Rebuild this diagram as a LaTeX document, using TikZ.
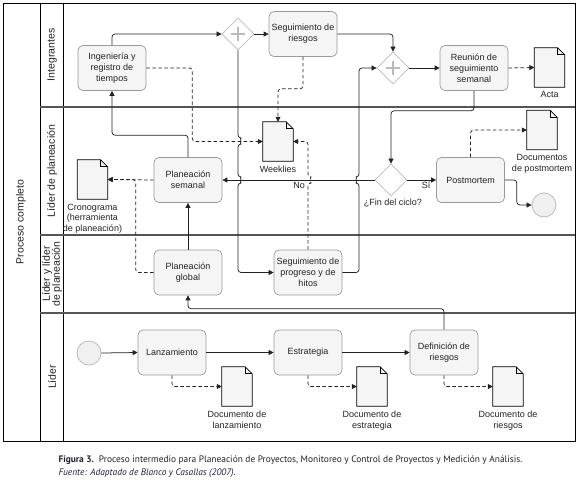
\documentclass[tikz,border=0pt]{standalone}
\usepackage{fontspec}
\setmainfont{Liberation Sans}
\newfontfamily\capfont{PT Sans}
\usetikzlibrary{arrows.meta,shapes.geometric,calc}
\definecolor{taskfill}{HTML}{F5F5F5}
\definecolor{taskline}{HTML}{999999}
\definecolor{gwline}{HTML}{BBBBBB}
\definecolor{linec}{HTML}{222222}
\definecolor{lanec}{HTML}{555555}
\definecolor{capc}{HTML}{1E1E36}
\definecolor{evfill}{HTML}{F0F0F0}
\begin{document}
\begin{tikzpicture}[x=1pt,y=-1pt,
  font=\fontsize{9}{11}\selectfont, text=linec,
  task/.style={draw=taskline, fill=taskfill, rounded corners=5pt, minimum width=68pt, minimum height=45pt, align=center, inner sep=1pt, line width=0.7pt},
  gw/.style={diamond, draw=gwline, fill=white, minimum width=32pt, minimum height=32pt, inner sep=0pt, line width=0.8pt},
  docbox/.style={minimum width=30pt, minimum height=39pt, inner sep=0pt},
  docline/.style={draw=black, fill=taskfill, line width=0.7pt},
  ev/.style={circle, draw=gwline, fill=evfill, minimum size=24pt, inner sep=0pt, line width=0.8pt},
  flow/.style={draw=linec, line width=0.75pt, rounded corners=3pt, -{Triangle[length=5pt,width=5pt]}},
  assoc/.style={flow, dash pattern=on 3.5pt off 2.5pt},
  lbl/.style={align=center, font=\fontsize{9}{10.8}\selectfont},
  lanelbl/.style={rotate=90, align=center, font=\fontsize{10.5}{11}\selectfont},
  plus/.style={draw=gwline, line width=1.1pt},
]
\useasboundingbox (0,0) rectangle (580,480);
% pool and lanes
\draw[line width=0.9pt] (3,3) rectangle (575,441);
\draw[line width=0.9pt] (40,3) -- (40,441);
\draw[line width=0.9pt] (63,3) -- (63,441);
\draw[draw=lanec, line width=1.1pt] (40,107) -- (575,107);
\draw[draw=lanec, line width=1.1pt] (40,235) -- (575,235);
\draw[draw=lanec, line width=1.1pt] (40,313) -- (575,313);
\node[lanelbl] (pool) at (21,222) {Proceso completo};
\node[lanelbl] (lane1) at (52,55) {Integrantes};
\node[lanelbl] (lane2) at (52,171) {Líder de planeación};
\node[lanelbl, font=\fontsize{10.5}{10}\selectfont] (lane3) at (52,274) {Líder y líder\\de planeación};
\node[lanelbl] (lane4) at (52,377) {Líder};

% tasks
\node[task] (ing) at (112,68) {Ingeniería y\\registro de\\tiempos};
\node[gw] (gw1) at (238,34) {};
\node[task] (segr) at (303,34) {Seguimiento de\\riesgos};
\node[gw] (gw2) at (393,68) {};
\node[task] (reu) at (474,68) {Reunión de\\seguimiento\\semanal};
\node[docbox, label={[lbl, label distance=1pt]below:Acta}] (acta) at (549.5,67.5) {};
\node[docbox, label={[lbl, label distance=1pt]below:Weeklies}] (weeklies) at (278,141.5) {};
\node[task] (plsem) at (188,180) {Planeación\\semanal};
\node[docbox, label={[lbl, label distance=1pt]below:Cronograma\\(herramienta\\de planeación)}] (crono) at (92.5,179.5) {};
\node[gw] (fin) at (391,180) {};
\node[lbl] (finlbl) at (393,203) {¿Fin del ciclo?};
\node[task] (post) at (470.5,180) {Postmortem};
\node[docbox, label={[lbl, label distance=1pt]below:Documentos\\de postmortem}] (docpost) at (542,130) {};
\node[ev] (endev) at (544,205) {};
\node[task] (plglob) at (188,272.5) {Planeación\\global};
\node[task] (segp) at (308,272.5) {Seguimiento de\\progreso y de\\hitos};
\node[ev] (startev) at (89,353) {};
\node[task] (lanz) at (172,352.5) {Lanzamiento};
\node[docbox, label={[lbl, label distance=1pt]below:Documento de\\lanzamiento}] (docl) at (237,386.5) {};
\node[task] (estr) at (308,352.5) {Estrategia};
\node[docbox, label={[lbl, label distance=1pt]below:Documento de\\estrategia}] (doce) at (372,386.5) {};
\node[task] (defr) at (444,352.5) {Definición de\\riesgos};
\node[docbox, label={[lbl, label distance=1pt]below:Documento de\\riesgos}] (docr) at (508,386.5) {};

% document shapes
\foreach \d in {acta,weeklies,crono,docpost,docl,doce,docr}{
  \draw[docline] (\d.north west) -- ([xshift=-7pt]\d.north east) -- ([yshift=-7pt]\d.north east) -- (\d.south east) -- (\d.south west) -- cycle;
  \draw[docline, fill=none] ([xshift=-7pt]\d.north east) -- ([xshift=-7pt,yshift=-7pt]\d.north east) -- ([yshift=-7pt]\d.north east);
}
% plus signs in parallel gateways
\foreach \g in {gw1,gw2}{
  \draw[plus] ([xshift=-7pt]\g.center) -- ([xshift=7pt]\g.center);
  \draw[plus] ([yshift=-7pt]\g.center) -- ([yshift=7pt]\g.center);
}

% labels on flows
\node[lbl] (nolbl) at (299,185) {No};
\node[lbl] (silbl) at (426,185) {Sí};

% sequence flows
\draw[flow] (ing.north) |- (gw1.west);
\draw[flow] (gw1.east) -- (segr.west);
\draw[flow] (segr.east) -| (gw2.north);
\draw[flow] (gw2.east) -- (reu.west);
\draw[flow] (reu.south) -- ++(0,20) -| (fin.north);
\draw[flow] (fin.west) -- (plsem.east);
\draw[flow] (fin.east) -- (post.west);
\draw[flow] (post.east) -- ++(12,0) |- (endev.west);
\draw[flow] (plsem.north) -- ++(0,-22) -| (ing.south);
\draw[flow] (plglob.north) -- (plsem.south);
\draw[flow] (gw1.south) -- (238,138) arc (-90:90:3) -- (238,177) arc (-90:90:3) -- (238,272.5) -- (segp.west);
\draw[flow] (segp.east) -- (359,272.5) -- (359,183) arc (90:270:3) -- (359,68) -- (gw2.west);
\draw[flow] (defr.north) -- ++(0,-21) -| (plglob.south);
\draw[flow] (startev.east) -- (lanz.west);
\draw[flow] (lanz.east) -- (estr.west);
\draw[flow] (estr.east) -- (defr.west);

% associations
\draw[assoc] (reu.east) -- (acta.west);
\draw[assoc] (post.north) |- (docpost.west);
\draw[assoc] (plsem.west) -- (crono.east);
\draw[assoc] (plglob.west) -- ++(-18,0) |- (crono.east);
\draw[assoc] (ing.east) -- ++(46,0) |- (weeklies.west);
\draw[assoc] (segr.south) -- ++(0,32) -| (weeklies.north);
\draw[assoc] (segp.north) -- (308,183) arc (90:-90:3) -- (308,141.5) -- (weeklies.east);
\draw[assoc] (lanz.south) |- (docl.west);
\draw[assoc] (estr.south) |- (doce.west);
\draw[assoc] (defr.south) |- (docr.west);

% caption
\node[anchor=west, align=left, text=capc, font=\capfont\fontsize{9.4}{13}\selectfont] (caption) at (55,466.5)
  {\textbf{Figura 3.}\ \ Proceso intermedio para Planeación de Proyectos, Monitoreo y Control de Proyectos y Medición y Análisis.\\
   \textit{Fuente: Adaptado de Blanco y Casallas (2007).}};
\end{tikzpicture}
\end{document}
